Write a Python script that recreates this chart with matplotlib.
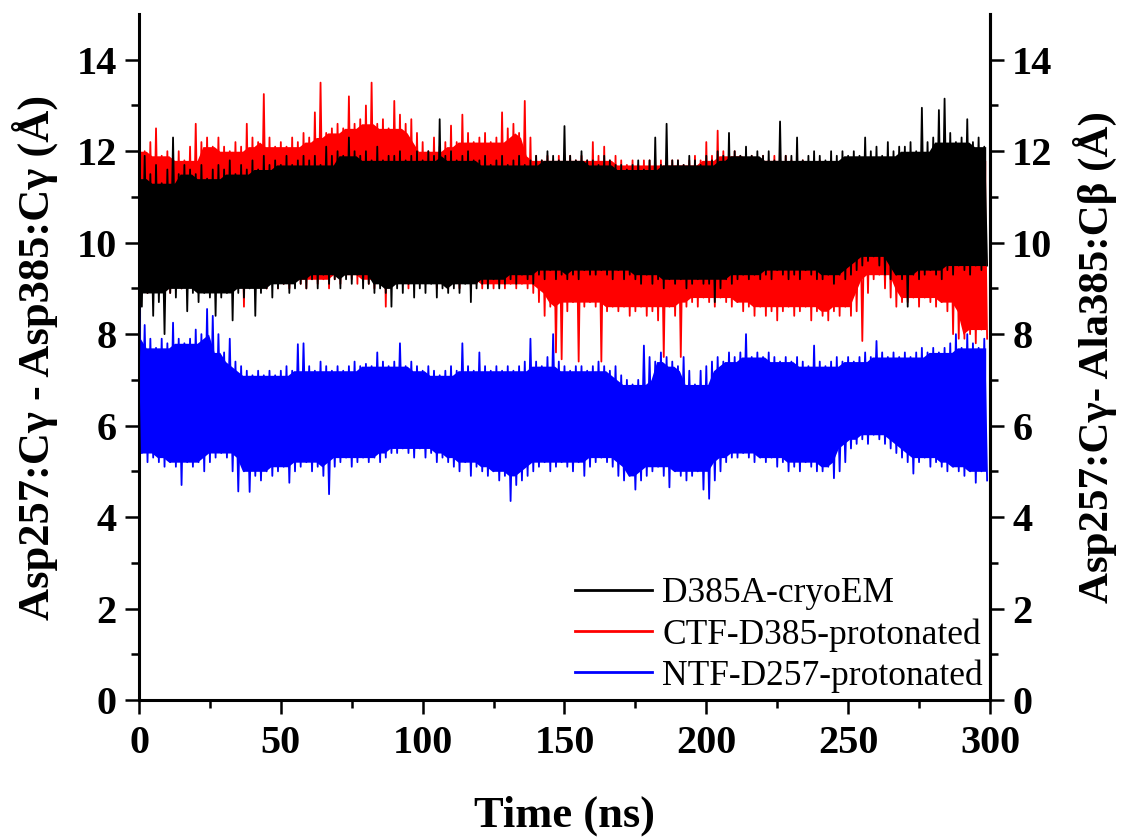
import numpy as np
import matplotlib
matplotlib.use("Agg")
import matplotlib.pyplot as plt

# distancias, una muestra por ns (0..299 ns)
time_ns = np.arange(300)

cryoem = [
    11.4, 8.6, 11.9, 8.9, 11.5, 8.4, 11.7, 8.7, 11.3, 8.0,
    11.6, 8.9, 12.3, 8.8, 11.5, 9.0, 11.7, 8.5, 11.6, 8.9,
    11.5, 8.7, 11.7, 8.9, 11.4, 8.8, 11.6, 8.4, 11.7, 8.8,
    11.6, 8.9, 11.8, 8.3, 11.5, 8.9, 11.7, 8.8, 11.6, 9.0,
    11.8, 8.4, 11.6, 8.9, 11.9, 9.0, 11.7, 8.8, 11.8, 9.0,
    11.7, 9.1, 11.9, 8.9, 11.7, 9.0, 11.8, 9.1, 11.9, 9.0,
    11.8, 9.2, 11.9, 9.0, 11.7, 9.3, 12.1, 9.1, 11.9, 9.2,
    12.0, 9.0, 11.9, 9.2, 12.3, 9.1, 12.0, 9.3, 11.9, 9.0,
    12.0, 9.1, 11.8, 8.9, 12.1, 9.0, 11.8, 8.9, 11.9, 8.6,
    11.9, 9.0, 12.0, 8.9, 11.8, 9.1, 11.9, 8.8, 12.0, 9.0,
    11.8, 8.9, 12.0, 9.1, 11.9, 8.8, 12.7, 9.0, 11.9, 8.9,
    12.0, 9.0, 11.8, 8.9, 11.9, 9.1, 12.0, 8.7, 11.8, 9.0,
    11.8, 9.1, 11.9, 9.0, 11.7, 9.2, 11.8, 9.0, 11.9, 9.1,
    11.7, 9.2, 11.8, 9.1, 11.9, 9.3, 11.7, 9.2, 11.8, 9.1,
    11.9, 9.3, 11.8, 9.2, 12.0, 9.4, 11.9, 9.2, 11.8, 9.3,
    12.55, 9.2, 11.9, 9.3, 11.8, 9.2, 12.0, 9.4, 11.8, 9.3,
    11.8, 9.3, 11.7, 9.4, 11.9, 9.3, 11.8, 9.2, 11.7, 9.4,
    11.7, 9.2, 11.6, 9.3, 11.7, 9.2, 11.8, 9.1, 11.6, 9.3,
    11.8, 9.1, 12.3, 9.2, 11.7, 9.0, 12.6, 9.2, 11.8, 9.1,
    11.8, 9.2, 11.7, 9.0, 11.9, 9.1, 11.8, 9.2, 11.7, 9.1,
    11.9, 9.1, 11.8, 8.7, 12.0, 9.0, 11.9, 9.2, 12.4, 9.1,
    12.0, 9.2, 11.9, 9.3, 12.1, 9.2, 11.9, 9.3, 12.0, 9.2,
    11.9, 9.3, 12.0, 9.2, 11.8, 9.4, 12.65, 9.3, 11.9, 9.2,
    11.9, 9.3, 12.3, 9.2, 11.8, 9.4, 11.9, 9.3, 12.0, 9.2,
    11.9, 9.2, 11.8, 9.3, 12.0, 9.1, 11.9, 9.3, 12.0, 9.2,
    11.9, 9.3, 12.0, 9.4, 11.9, 9.5, 12.3, 9.6, 12.0, 9.7,
    12.1, 9.5, 11.9, 9.3, 12.2, 9.2, 12.0, 9.3, 12.1, 9.2,
    12.1, 8.6, 12.2, 9.3, 12.0, 9.2, 12.95, 9.3, 12.2, 9.4,
    12.3, 9.3, 12.9, 9.2, 13.15, 9.4, 12.4, 9.3, 12.2, 9.5,
    12.3, 9.4, 12.7, 9.3, 12.2, 9.5, 12.3, 9.4, 12.1, 9.5,
]

ctf_d385 = [
    12.1, 9.0, 12.0, 8.9, 12.2, 9.1, 12.5, 9.0, 11.9, 9.1,
    12.0, 8.9, 11.9, 9.1, 12.0, 9.0, 11.8, 9.2, 12.1, 9.0,
    12.6, 9.1, 12.2, 9.0, 12.3, 9.2, 12.1, 9.1, 12.3, 9.0,
    12.1, 9.2, 12.0, 9.1, 12.2, 9.0, 12.1, 8.6, 12.6, 9.1,
    12.3, 9.0, 12.2, 9.1, 13.25, 9.0, 12.3, 9.2, 12.1, 9.0,
    12.2, 9.1, 12.1, 9.0, 12.3, 9.2, 12.2, 9.1, 12.4, 9.0,
    12.3, 9.2, 12.85, 9.1, 13.5, 9.2, 12.4, 9.0, 12.5, 9.2,
    12.6, 9.1, 12.5, 9.3, 13.2, 9.2, 12.6, 9.1, 12.7, 9.2,
    13.0, 9.1, 13.5, 9.0, 12.6, 9.2, 12.7, 8.6, 12.5, 9.1,
    13.1, 9.2, 12.8, 9.1, 12.6, 9.0, 12.7, 9.1, 12.4, 9.2,
    12.2, 9.1, 12.0, 9.2, 12.3, 9.0, 12.1, 9.1, 12.2, 9.0,
    12.56, 9.1, 12.2, 9.0, 12.8, 9.2, 12.4, 9.0, 12.2, 9.1,
    12.3, 9.0, 12.4, 9.1, 12.2, 9.0, 12.3, 9.1, 12.85, 9.0,
    12.5, 9.1, 12.6, 9.0, 12.4, 9.1, 13.1, 9.0, 12.3, 8.9,
    11.9, 8.7, 11.8, 8.4, 11.9, 8.6, 11.8, 7.6, 11.9, 7.45,
    11.8, 8.5, 11.9, 8.7, 11.8, 7.4, 11.9, 8.6, 11.8, 8.7,
    12.2, 8.6, 11.9, 7.4, 12.1, 8.5, 11.8, 8.6, 11.9, 8.5,
    11.8, 8.6, 11.7, 8.4, 11.8, 8.5, 11.7, 8.6, 11.8, 8.4,
    11.8, 8.5, 11.7, 8.3, 11.8, 7.5, 11.7, 8.6, 11.8, 8.4,
    11.8, 7.5, 11.7, 8.6, 11.8, 8.7, 11.9, 8.6, 11.8, 8.8,
    12.2, 8.7, 11.9, 8.6, 12.45, 8.8, 12.0, 8.7, 11.9, 8.6,
    12.0, 8.7, 11.9, 8.5, 12.0, 8.6, 11.9, 8.4, 11.8, 8.6,
    11.9, 8.4, 11.8, 8.5, 11.9, 8.3, 11.8, 8.5, 11.9, 8.6,
    11.8, 8.4, 11.7, 8.5, 11.8, 8.6, 11.7, 8.3, 11.8, 8.5,
    11.8, 8.4, 11.7, 8.3, 11.8, 8.5, 11.7, 8.4, 11.8, 8.6,
    11.8, 8.4, 11.7, 8.5, 11.8, 7.85, 11.7, 8.9, 11.8, 9.2,
    11.8, 9.3, 11.7, 9.0, 11.8, 8.8, 11.7, 8.6, 11.8, 8.7,
    11.8, 8.7, 11.7, 8.8, 11.8, 8.6, 11.7, 8.8, 11.8, 8.7,
    11.8, 8.6, 11.9, 8.7, 11.8, 8.5, 11.9, 8.0, 11.8, 7.9,
    11.9, 7.9, 11.8, 8.0, 11.9, 7.8, 11.8, 8.1, 11.9, 7.9,
]

ntf_d257 = [
    8.8, 5.4, 8.2, 5.2, 7.9, 5.3, 7.7, 5.2, 7.9, 5.1,
    7.8, 5.2, 8.25, 5.1, 7.9, 4.7, 7.8, 5.2, 7.9, 5.1,
    8.1, 5.2, 8.0, 5.0, 8.55, 5.2, 8.4, 5.3, 8.0, 5.4,
    7.6, 5.3, 7.9, 5.0, 7.4, 4.56, 7.3, 5.0, 7.2, 4.55,
    7.1, 4.9, 7.2, 4.8, 7.1, 5.0, 7.2, 4.9, 7.1, 5.0,
    7.2, 5.1, 7.3, 4.75, 7.2, 5.0, 7.78, 5.1, 7.8, 5.2,
    7.3, 5.0, 7.2, 5.1, 7.4, 4.9, 7.3, 4.5, 7.2, 5.1,
    7.3, 5.2, 7.2, 5.3, 7.3, 5.1, 7.4, 5.2, 7.3, 5.3,
    7.35, 5.2, 7.3, 5.3, 7.6, 5.2, 7.4, 5.3, 7.3, 5.4,
    7.4, 5.4, 7.8, 5.5, 7.3, 5.4, 7.4, 5.3, 7.3, 5.5,
    7.2, 5.3, 7.3, 5.4, 7.2, 5.2, 7.1, 5.3, 7.2, 5.2,
    7.3, 5.1, 7.2, 5.0, 7.8, 5.2, 7.3, 4.9, 7.2, 5.1,
    7.6, 5.0, 7.3, 4.9, 7.2, 5.0, 7.3, 4.8, 7.2, 4.9,
    7.3, 4.35, 7.2, 4.7, 7.3, 4.8, 7.4, 4.9, 7.9, 5.0,
    7.4, 5.1, 7.3, 5.2, 7.5, 5.0, 8.0, 5.1, 7.4, 5.2,
    7.3, 5.1, 7.2, 5.0, 7.3, 5.2, 7.3, 4.9, 7.2, 5.1,
    7.3, 5.2, 7.4, 5.3, 7.3, 5.2, 7.2, 5.1, 7.3, 4.9,
    7.1, 4.8, 7.0, 4.9, 6.9, 4.6, 7.0, 4.8, 7.75, 4.9,
    7.5, 5.0, 7.4, 5.1, 7.6, 4.9, 7.5, 4.65, 7.4, 5.0,
    7.3, 4.9, 7.5, 4.8, 7.2, 4.9, 6.9, 5.0, 7.2, 4.6,
    7.3, 4.4, 7.4, 4.8, 7.5, 5.0, 7.4, 5.2, 7.6, 5.3,
    7.5, 5.3, 7.6, 5.4, 8.0, 5.3, 7.5, 5.2, 7.6, 5.3,
    7.5, 5.2, 7.6, 5.3, 7.5, 5.1, 7.4, 5.2, 7.5, 5.0,
    7.4, 5.1, 7.5, 5.0, 7.4, 5.2, 7.3, 5.1, 7.75, 5.0,
    7.4, 5.0, 7.3, 5.1, 7.4, 4.85, 7.5, 5.0, 7.4, 5.2,
    7.5, 5.5, 7.4, 5.6, 7.5, 5.7, 7.6, 5.6, 7.5, 5.8,
    7.85, 5.7, 7.6, 5.6, 7.5, 5.5, 7.6, 5.4, 7.5, 5.3,
    7.6, 5.2, 7.5, 4.95, 7.6, 5.2, 7.7, 5.3, 7.6, 5.1,
    7.7, 5.2, 7.6, 5.1, 7.7, 5.0, 7.8, 5.1, 8.0, 5.0,
    7.7, 4.9, 8.0, 5.0, 7.8, 4.75, 7.7, 5.0, 7.9, 4.8,
]

labels = ['D385A-cryoEM', 'CTF-D385-protonated', 'NTF-D257-protonated']

plt.rcParams['font.family'] = ['Liberation Serif', 'DejaVu Serif']


def rolling(arr, op, w):
    # min/max sobre vecinos (+-w) sin salirse del array
    n = len(arr)
    pad = np.r_[np.full(w, arr[0]), arr, np.full(w, arr[-1])]
    return op.reduce([pad[i:i + n] for i in range(2 * w + 1)])


def draw_series(ax, values, color, label, z):
    # relleno del nucleo denso y luego la traza con sus picos
    v = np.asarray(values, dtype=float)
    hi, lo = v[0::2], v[1::2]
    hi_core = rolling(hi, np.minimum, 2)
    lo_core = rolling(lo, np.maximum, 2)
    ax.fill_between(time_ns[0::2] + 0.5, lo_core, hi_core, color=color, lw=0, zorder=z)
    line, = ax.plot(time_ns, v, color=color, lw=1.3, label=label, zorder=z + 0.5)
    return line


fig = plt.figure(figsize=(11.21, 8.4), dpi=100)
ax = fig.add_axes([0.124, 0.1667, 0.7591, 0.8166])

# rojo debajo del negro, azul encima
l_red = draw_series(ax, ctf_d385, '#ff0000', labels[1], 2)
l_blk = draw_series(ax, cryoem, 'black', labels[0], 3)
l_blu = draw_series(ax, ntf_d257, '#0000ff', labels[2], 4)

ax.set_xlim(0, 300)
ax.set_ylim(0, 15)
ax.set_xticks(np.arange(0, 301, 50))
ax.set_xticks(np.arange(0, 301, 25), minor=True)
ax.set_yticks(np.arange(0, 15, 2))
ax.set_yticks(np.arange(0, 15, 1), minor=True)
ax.spines['top'].set_visible(False)
for s in ['left', 'bottom', 'right']:
    ax.spines[s].set_linewidth(2.2)

ax2 = ax.twinx()
ax2.set_ylim(0, 15)
ax2.set_yticks(np.arange(0, 15, 2))
ax2.set_yticks(np.arange(0, 15, 1), minor=True)
ax2.spines['top'].set_visible(False)
ax2.spines['right'].set_linewidth(2.2)

for a in (ax, ax2):
    a.tick_params(which='major', direction='out', length=10, width=1.8,
                  labelsize=29, pad=6)
    a.tick_params(which='minor', direction='out', length=6, width=1.8)
    for t in a.get_xticklabels() + a.get_yticklabels():
        t.set_fontweight('bold')
ax.tick_params(axis='x', pad=8)

ax.set_xlabel('Time (ns)', fontsize=32, fontweight='bold', labelpad=24)
ax.set_ylabel('Asp257:C\u03b3 - Asp385:C\u03b3 (\u00c5)', fontsize=32, fontweight='bold')
ax2.set_ylabel('Asp257:C\u03b3- Ala385:C\u03b2 (\u00c5)', fontsize=31, fontweight='bold')
ax.yaxis.set_label_coords(-0.095, 0.5)
ax2.yaxis.set_label_coords(1.097, 0.5)

leg = ax.legend(handles=[l_blk, l_red, l_blu], loc='lower right', frameon=False,
                fontsize=25.5, handlelength=2.15, labelspacing=0.22,
                handletextpad=0.3, borderaxespad=0.1, borderpad=0.1)
leg.set_zorder(10)
for h in leg.get_lines():
    h.set_linewidth(2.0)

fig.savefig('out.png', dpi=100)
